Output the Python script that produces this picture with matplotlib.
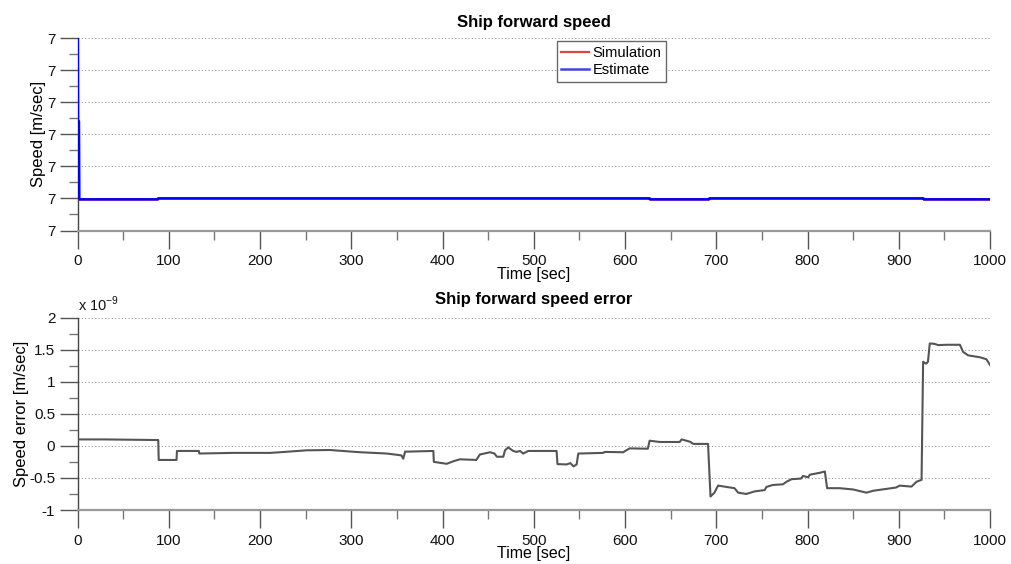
import matplotlib
matplotlib.use("Agg")
import matplotlib.pyplot as plt
from matplotlib.ticker import FuncFormatter, MultipleLocator, FixedLocator

plt.rcParams['font.family'] = ['Liberation Sans', 'DejaVu Sans']

# ---------------- data ----------------
# Top panel: forward speed [m/sec]
sim_t = [0, 88, 88.5, 627, 627.5, 692, 692.5, 927, 927.5, 1000]
sim_speed = [6.9999999997, 6.9999999997, 7.0, 7.0, 6.9999999997, 6.9999999997,
             7.0, 7.0, 6.9999999997, 6.9999999997]
est_t = [0, 0.6, 1.6, 2.0, 88, 88.5, 627, 627.5, 692, 692.5, 927, 927.5, 1000]
est_speed = [7.00000008, 7.000000024, 7.000000024, 6.9999999997, 6.9999999997,
             7.0, 7.0, 6.9999999997, 6.9999999997, 7.0, 7.0, 6.9999999997, 6.9999999997]
speed_ticks = [6.99999999, 7.0, 7.00000001, 7.00000002, 7.00000003, 7.00000004, 7.00000005]

# Bottom panel: speed error [x 1e-9 m/sec]
err_t = [0, 30, 60, 88.5, 89, 108.5, 109, 133, 133.5, 170, 211, 222, 251, 277, 300,
         310, 339, 353, 355, 357, 359, 362.5, 390, 390.5, 404.6, 412, 419, 437, 441,
         452, 457, 459.6, 466.6, 468.5, 472, 477.5, 481, 485, 488.5, 494, 503, 525,
         526, 536, 540, 543.6, 547, 548.8, 576, 578, 598, 605, 625, 627, 638, 660,
         662, 671, 675, 691, 693.7, 698, 702, 711, 720, 724, 733, 742, 753, 755, 762,
         773, 777, 782.5, 793, 795, 800.8, 802.5, 813.5, 819, 821.5, 835, 850, 864.6,
         872, 897, 901, 914, 919.4, 925, 926.7, 930, 932, 934, 939, 943, 952, 967,
         970.5, 976, 989, 996, 1000]
err_val = [0.10, 0.10, 0.095, 0.09, -0.22, -0.22, -0.08, -0.08, -0.12, -0.11, -0.11,
           -0.10, -0.07, -0.065, -0.09, -0.10, -0.12, -0.145, -0.15, -0.20, -0.09,
           -0.09, -0.08, -0.25, -0.28, -0.24, -0.21, -0.22, -0.135, -0.10, -0.12,
           -0.17, -0.17, -0.07, -0.025, -0.08, -0.095, -0.08, -0.12, -0.08, -0.08,
           -0.08, -0.285, -0.29, -0.27, -0.32, -0.29, -0.12, -0.11, -0.095, -0.10,
           -0.04, -0.045, 0.08, 0.06, 0.06, 0.10, 0.065, 0.03, 0.03, -0.79, -0.73,
           -0.62, -0.64, -0.66, -0.73, -0.75, -0.71, -0.69, -0.64, -0.61, -0.60,
           -0.56, -0.52, -0.51, -0.47, -0.49, -0.45, -0.42, -0.40, -0.66, -0.66,
           -0.68, -0.73, -0.70, -0.65, -0.62, -0.635, -0.56, -0.53, 1.31, 1.28, 1.31,
           1.595, 1.59, 1.57, 1.575, 1.575, 1.465, 1.41, 1.38, 1.35, 1.26]
err_ticks = [-1, -0.5, 0, 0.5, 1, 1.5, 2]
err_tick_labels = ['-1', '-0.5', '0', '0.5', '1', '1.5', '2']
time_ticks = [0, 100, 200, 300, 400, 500, 600, 700, 800, 900, 1000]

# ---------------- figure ----------------
W, H = 1011, 564
fig = plt.figure(figsize=(W / 100, H / 100), dpi=100)

def px_axes(left, top, right, bottom):
    return fig.add_axes([left / W, 1 - bottom / H, (right - left) / W, (bottom - top) / H])

ax1 = px_axes(77.5, 38, 990, 230.5)
ax2 = px_axes(77.5, 317.5, 990, 510)

def style(ax):
    for s in ('top', 'right'):
        ax.spines[s].set_visible(False)
    ax.spines['left'].set_color('#444444')
    ax.spines['left'].set_linewidth(1.0)
    ax.spines['bottom'].set_color('#999999')
    ax.spines['bottom'].set_linewidth(1.6)
    ax.set_xlim(0, 1000)
    ax.xaxis.set_major_locator(FixedLocator(time_ticks))
    ax.xaxis.set_minor_locator(MultipleLocator(50))
    ax.tick_params(axis='both', which='major', direction='out', length=13,
                   width=1.0, color='#555555', labelsize=11, labelcolor='#111111')
    ax.tick_params(axis='both', which='minor', direction='out', length=6.5,
                   width=1.0, color='#777777')
    ax.tick_params(axis='x', which='major', pad=4)
    ax.tick_params(axis='y', which='major', pad=3)
    ax.yaxis.grid(True, which='major', linestyle=(0, (1, 2)), color='#999999', linewidth=0.8)
    ax.set_axisbelow(True)
    ax.set_xlabel('Time [sec]', fontsize=11.5, labelpad=-1)

# --- top panel
ax1.plot(sim_t, sim_speed, color='red', linewidth=1.6, label='Simulation', zorder=3)
ax1.plot(est_t, est_speed, color='blue', linewidth=1.8, label='Estimate', zorder=4)
ax1.set_ylim(speed_ticks[0], speed_ticks[-1])
ax1.yaxis.set_major_locator(FixedLocator(speed_ticks))
ax1.yaxis.set_minor_locator(FixedLocator([(a + b) / 2 for a, b in zip(speed_ticks[:-1], speed_ticks[1:])]))
ax1.yaxis.set_major_formatter(FuncFormatter(lambda v, p: '%g' % v))
style(ax1)
ax1.set_ylabel('Speed [m/sec]', fontsize=12, labelpad=1)
ax1.set_title('Ship forward speed', fontsize=12, fontweight='bold', pad=8)
leg = ax1.legend(loc='upper left', bbox_to_anchor=(0.525, 0.982), borderaxespad=0,
                 fontsize=10.5, frameon=True, fancybox=False, handlelength=1.9,
                 handletextpad=0.25, borderpad=0.3, labelspacing=0.25)
leg.get_frame().set_edgecolor('#444444')
leg.get_frame().set_linewidth(1.0)
for ln, c in zip(leg.get_lines(), ['#dd4444', '#4444dd']):
    ln.set_color(c)

# --- bottom panel
ax2.plot(err_t, err_val, color='#555555', linewidth=1.5, zorder=3)
ax2.set_ylim(-1, 2)
ax2.yaxis.set_major_locator(FixedLocator(err_ticks))
ax2.yaxis.set_major_formatter(FuncFormatter(lambda v, p: err_tick_labels[err_ticks.index(v)] if v in err_ticks else ''))
ax2.yaxis.set_minor_locator(MultipleLocator(0.25))
style(ax2)
ax2.set_ylabel('Speed error [m/sec]', fontsize=12, labelpad=0)
ax2.set_title('Ship forward speed error', fontsize=12, fontweight='bold', pad=10)
ax2.text(0.0, 1.02, r'x 10$^{\mathregular{-9}}$', transform=ax2.transAxes,
         fontsize=10.5, ha='left', va='bottom', color='#111111')

fig.savefig('out.png', dpi=100)
